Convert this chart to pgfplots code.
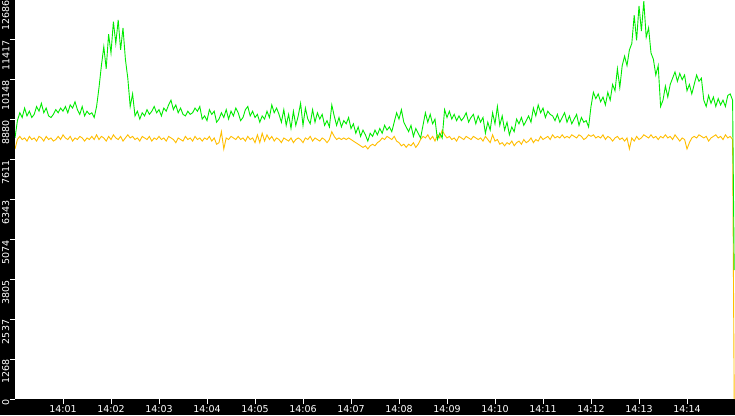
\documentclass[border=0pt]{standalone}
\usepackage{fontspec}
\setmainfont{DejaVu Sans}
\usepackage{pgfplots}
\usepackage{pgfplotstable}
\pgfplotsset{compat=1.18}

\definecolor{lineGreen}{RGB}{0,235,0}
\definecolor{lineGold}{RGB}{255,190,0}

% t = seconds after 14:00:00, g = green series, o = gold series
\pgfplotstableread{
t g o
0 8300 7950
3 8850 8250
6 9100 8350
9 8950 8250
12 9250 8300
15 9000 8200
18 9150 8350
21 8950 8250
24 9050 8300
27 9300 8200
30 9150 8350
33 9400 8300
36 9100 8200
39 9250 8350
42 9000 8250
45 8950 8300
48 9050 8200
51 9200 8250
54 9100 8350
57 9250 8250
60 9150 8400
63 9300 8300
66 9100 8250
69 9350 8350
72 9250 8200
75 9450 8300
78 9200 8250
81 9050 8350
84 9300 8300
87 9000 8200
90 9150 8300
93 9050 8250
96 9100 8350
99 8950 8250
102 9300 8400
105 9900 8250
108 10600 8350
111 11200 8300
114 10500 8200
117 11600 8350
120 11000 8250
123 12000 8400
126 11300 8300
129 12050 8250
132 11100 8350
135 11800 8200
138 10800 8300
141 10200 8400
144 9300 8300
147 9700 8350
150 9000 8250
153 9150 8300
156 8900 8200
159 9100 8350
162 9000 8300
165 9200 8250
168 9050 8350
171 9150 8200
174 9300 8300
177 9100 8250
180 9200 8350
183 9000 8250
186 9250 8300
189 9150 8200
192 9350 8350
195 9500 8300
198 9200 8250
201 9350 8150
204 9100 8300
207 9250 8250
210 9050 8200
213 9000 8350
216 9150 8250
219 9050 8300
222 9100 8200
225 9250 8350
228 9150 8250
231 9300 8300
234 8900 8200
237 9000 8300
240 8850 8250
243 9200 8350
246 9050 8200
249 9150 8300
252 8800 8100
255 8900 8150
258 9100 8500
261 8950 7950
264 9200 8300
267 8900 8250
270 9150 8350
273 9000 8300
276 9250 8250
279 9100 8350
282 8850 8250
285 8950 8300
288 9200 8200
291 9300 8350
294 9000 8250
297 9150 8300
300 8950 8150
303 9050 8400
306 8800 8150
309 9000 8450
312 8900 8200
315 9150 8400
318 8950 8250
321 9350 8350
324 9100 8200
327 9250 8300
330 9050 8250
333 8800 8150
336 9200 8300
339 8700 8250
342 9050 8200
345 8600 8300
348 9150 8150
351 8700 8250
354 9000 8300
357 9400 8250
360 8700 8150
363 9250 8300
366 8900 8250
369 8750 8350
372 9200 8200
375 8800 8300
378 9100 8250
381 8900 8200
384 9050 8300
387 8700 8250
390 8850 8150
393 8650 8250
396 9350 8500
399 9000 8350
402 8700 8250
405 8950 8300
408 8650 8250
411 8850 8300
414 8750 8250
417 8950 8300
420 8600 8250
423 8750 8200
426 8450 8150
429 8650 8100
432 8350 8050
435 8550 8000
438 8400 8050
441 8200 7950
444 8450 8050
447 8350 8100
450 8550 8050
453 8400 8150
456 8600 8200
459 8450 8300
462 8700 8250
465 8550 8350
468 8650 8300
471 8500 8250
474 8800 8350
477 9100 8200
480 8900 8150
483 9200 8050
486 8800 8100
489 8650 8000
492 8500 8100
495 8700 8050
498 8350 8150
501 8600 8000
504 8450 8100
507 8300 8250
510 8700 8350
513 9100 8300
516 8800 8400
519 9050 8250
522 8750 8350
525 8900 8200
528 8250 8400
531 8450 8300
534 8300 8550
537 9200 8400
540 8950 8300
543 9150 8350
546 8900 8250
549 9050 8300
552 8850 8200
555 9000 8350
558 8850 8300
561 8950 8250
564 9100 8350
567 8800 8300
570 8950 8250
573 9050 8350
576 8750 8300
579 9000 8250
582 8800 8300
585 8950 8200
588 8450 8350
591 8800 8250
594 8550 8150
597 9100 8400
600 8750 8200
603 9300 8250
606 8700 8100
609 9000 8150
612 8550 8050
615 8800 8150
618 8400 8100
621 8650 8200
624 8500 8050
627 8900 8150
630 8750 8200
633 8950 8100
636 8700 8250
639 8850 8150
642 9000 8200
645 8800 8300
648 9250 8150
651 9000 8250
654 9350 8200
657 9100 8350
660 9250 8250
663 8950 8300
666 9150 8350
669 9050 8250
672 9000 8400
675 8850 8300
678 9050 8350
681 8800 8300
684 8950 8400
687 9100 8300
690 8800 8350
693 9000 8300
696 8750 8400
699 8900 8350
702 9050 8300
705 8700 8400
708 8950 8350
711 8800 8250
714 8850 8300
717 8650 8400
720 9300 8350
723 9750 8400
726 9550 8300
729 9700 8350
732 9450 8300
735 9600 8400
738 9350 8250
741 9750 8350
744 9500 8300
747 10000 8200
750 9800 8300
753 10500 8350
756 9900 8250
759 10600 8300
762 10900 8200
765 10600 8300
768 11100 7950
771 11300 8300
774 12200 8200
777 11400 8350
780 12500 8250
783 11700 8300
786 12650 8400
789 11500 8350
792 11800 8300
795 11000 8400
798 10800 8300
801 10300 8350
804 10600 8250
807 9300 8350
810 9500 8300
813 9950 8400
816 9600 8300
819 10000 8350
822 10200 8250
825 10400 8400
828 10100 8300
831 10350 8200
834 10150 8300
837 10300 8250
840 9800 7950
843 10000 8150
846 9700 8300
849 10000 8350
852 10300 8300
855 10100 8400
858 10200 8350
861 9500 8300
864 9300 8350
867 9650 8200
870 9400 8300
873 9600 8350
876 9300 8400
879 9550 8300
882 9350 8350
885 9500 8250
888 9300 8400
891 9650 8300
894 9700 8350
897 9500 8250
899 4100 0
}\rates

\begin{document}
\begin{tikzpicture}
\fill[black] (0,0) rectangle (735pt,415pt);
\begin{axis}[
    at={(15pt,16pt)}, anchor=south west,
    width=720pt, height=399pt, scale only axis,
    xmin=0, xmax=900, ymin=0, ymax=12686,
    axis line style={draw=none},
    axis background/.style={fill=white},
    tick align=outside,
    major tick length=5pt,
    tick style={white, line width=1pt},
    xtick pos=bottom, ytick pos=left,
    xtick={60,120,180,240,300,360,420,480,540,600,660,720,780,840},
    xticklabels={14:01,14:02,14:03,14:04,14:05,14:06,14:07,14:08,14:09,14:10,14:11,14:12,14:13,14:14},
    ytick={0,1268.6,2537.2,3805.8,5074.4,6343,7611.6,8880.2,10148.8,11417.4,12686},
    yticklabels={0,1268,2537,3805,5074,6343,7611,8880,10148,11417,12686},
    xticklabel style={white, font=\fontsize{9.5}{10}\selectfont, inner sep=0.5pt, yshift=-1pt},
    yticklabel style={white, font=\fontsize{9.5}{10}\selectfont, rotate=90, anchor=south east, inner sep=0.5pt},
    /pgf/number format/assume math mode=true,
]
\addplot[lineGold, line width=0.9pt] table[x=t, y=o] {\rates};
\addplot[lineGreen, line width=0.9pt] table[x=t, y=g] {\rates};
\end{axis}
\pgfresetboundingbox
\useasboundingbox (0,0) rectangle (735pt,415pt);
\end{tikzpicture}
\end{document}
